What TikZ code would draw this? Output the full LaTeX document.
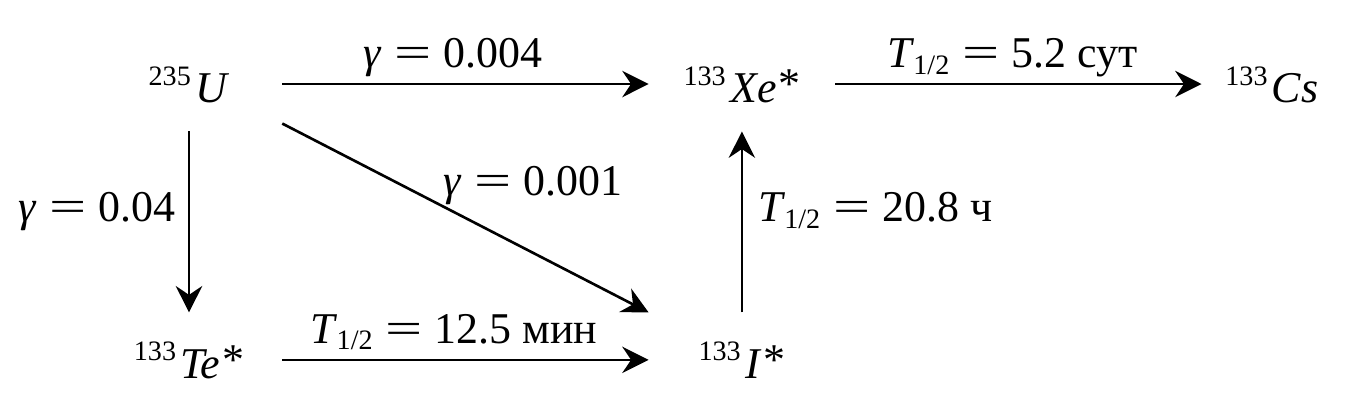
\documentclass[tikz,border=0pt]{standalone}
\usepackage{fontspec}
\usepackage{graphicx}
\setmainfont{Liberation Serif}
\usetikzlibrary{arrows.meta,positioning}

\newcommand{\sups}[1]{\raisebox{10.2pt}{\fontsize{16}{16}\selectfont #1}\kern2.5pt}
\newcommand{\exc}{\kern1pt\raisebox{2.5pt}{*}}
\newcommand{\half}{\textit{T}\kern-0.5pt\raisebox{-3.5pt}{\fontsize{16}{16}\selectfont 1/2}}
\newcommand{\eq}{\hspace{0.3em}\scalebox{1.5}[1]{=}\hspace{0.27em}}

\begin{document}
\begin{tikzpicture}[
  x=0.02cm, y=-0.02cm,
  every node/.style={font=\fontsize{25}{30}\selectfont},
  nuc/.style={inner xsep=0pt, inner ysep=16pt, text height=21.6pt, text depth=0pt, minimum width=105.8pt},
  flow/.style={-{Stealth[length=15pt, width=15pt, inset=5pt]}, line width=1.5pt},
  over/.style={midway, anchor=base, yshift=9.2pt, inner sep=0pt},
  node distance=103pt and 208.5pt]
\useasboundingbox (0,0) rectangle (1345,412);
\node[nuc, anchor=base] (U) at (189,103) {\sups{235}\textit{U}};
\node[nuc, right=of U] (Xe) {\sups{133}\textit{Xe}\exc};
\node[nuc, right=of Xe, minimum width=79.7pt] (Cs) {\sups{133}\textit{Cs}};
\node[nuc, below=of U] (Te) {\sups{133}\textit{Te}\exc};
\node[nuc, right=of Te] (I) {\sups{133}\textit{I}\exc};
\draw[flow] (U) -- node[over, xshift=-7pt] {\textit{γ}\eq0.004} (Xe);
\draw[flow] (Xe) -- node[over, xshift=-3.4pt] {\half\eq5.2 сут} (Cs);
\draw[flow] (Te) -- node[over, xshift=-6.5pt] {\half\eq12.5 мин} (I);
\draw[flow] (U) -- node[midway, anchor=base east, xshift=-7pt, inner sep=0pt] {\textit{γ}\eq0.04} (Te);
\draw[flow] (I) -- node[midway, anchor=base west, xshift=8.5pt, inner sep=0pt] {\half\eq20.8 ч} (Xe);
\draw[flow] ([yshift=4.5pt]U.south east) -- node[pos=0.436, anchor=base west, yshift=5.7pt, inner sep=0pt] {\textit{γ}\eq0.001} (I.north west);
\end{tikzpicture}
\end{document}
